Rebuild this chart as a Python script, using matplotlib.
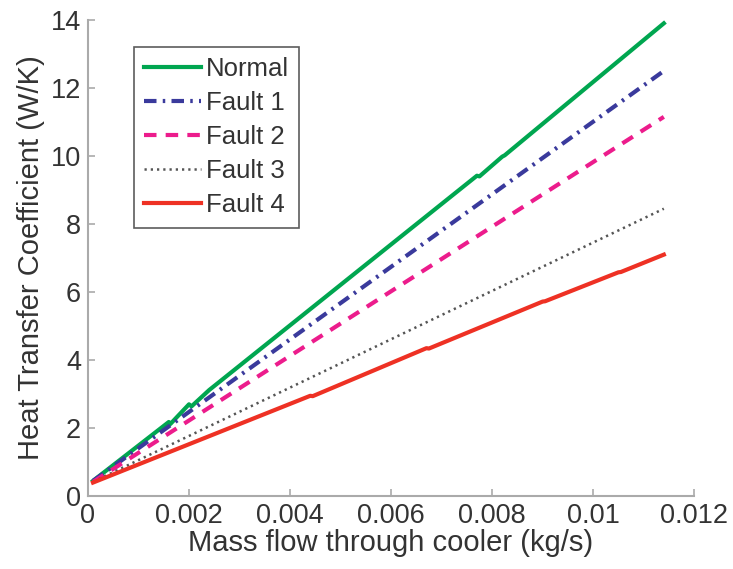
import matplotlib
matplotlib.use("Agg")
import matplotlib.pyplot as plt

plt.rcParams['font.family'] = ['Liberation Sans', 'DejaVu Sans']

# data (mass flow kg/s vs heat transfer coefficient W/K)
x_normal = [0.0001, 0.0016, 0.00163, 0.0020, 0.00205, 0.0024, 0.0077, 0.00775, 0.0082, 0.00825, 0.0114]
y_normal = [0.45, 2.18, 2.12, 2.70, 2.64, 3.12, 9.42, 9.40, 9.98, 10.02, 13.90]

x_fault1 = [0.0001, 0.0114]
y_fault1 = [0.45, 12.50]

x_fault2 = [0.0001, 0.0114]
y_fault2 = [0.42, 11.15]

x_fault3 = [0.0001, 0.0114]
y_fault3 = [0.42, 8.45]

x_fault4 = [0.0001, 0.0044, 0.00445, 0.0067, 0.00675, 0.0090, 0.00905, 0.0105, 0.01055, 0.0114]
y_fault4 = [0.40, 2.95, 2.94, 4.35, 4.34, 5.72, 5.73, 6.58, 6.59, 7.10]

labels = ['Normal', 'Fault 1', 'Fault 2', 'Fault 3', 'Fault 4']

fig = plt.figure(figsize=(7.33, 5.69), dpi=100)
ax = fig.add_axes([0.12, 0.128, 0.827, 0.837])

ax.plot(x_normal, y_normal, color='#00a650', lw=3.0, label=labels[0])
ax.plot(x_fault1, y_fault1, color='#3a3a9c', lw=3.0, ls=(0, (3, 1.5, 0.6, 1.5)), label=labels[1])
ax.plot(x_fault2, y_fault2, color='#ec1c8c', lw=3.0, ls=(0, (3, 2.2)), label=labels[2])
ax.plot(x_fault3, y_fault3, color='#555555', lw=1.8, ls=(0, (0.9, 1.6)), label=labels[3])
ax.plot(x_fault4, y_fault4, color='#ee3124', lw=3.0, label=labels[4])

ax.set_xlim(0, 0.012)
ax.set_ylim(0, 14)
ax.set_xticks([0, 0.002, 0.004, 0.006, 0.008, 0.01, 0.012])
ax.set_xticklabels(['0', '0.002', '0.004', '0.006', '0.008', '0.01', '0.012'])
ax.set_yticks(range(0, 15, 2))

for side in ['top', 'right']:
    ax.spines[side].set_visible(False)
for side in ['left', 'bottom']:
    ax.spines[side].set_color('#aaaaaa')
    ax.spines[side].set_linewidth(1.5)
ax.tick_params(direction='in', length=5, width=1.2, color='#aaaaaa',
               labelsize=19.5, labelcolor='#333333', pad=5)

ax.set_xlabel('Mass flow through cooler (kg/s)', fontsize=21, color='#333333', labelpad=0)
ax.set_ylabel('Heat Transfer Coefficient (W/K)', fontsize=21, color='#333333', labelpad=4)

leg = ax.legend(loc='upper left', bbox_to_anchor=(0.076, 0.943), fontsize=18.5,
                frameon=True, fancybox=False, handlelength=2.2, handletextpad=0.2,
                borderpad=0.4, labelspacing=0.39, borderaxespad=0)
leg.get_frame().set_edgecolor('#333333')
leg.get_frame().set_linewidth(1.2)
for t in leg.get_texts():
    t.set_color('#333333')

fig.savefig('out.png', dpi=100)
